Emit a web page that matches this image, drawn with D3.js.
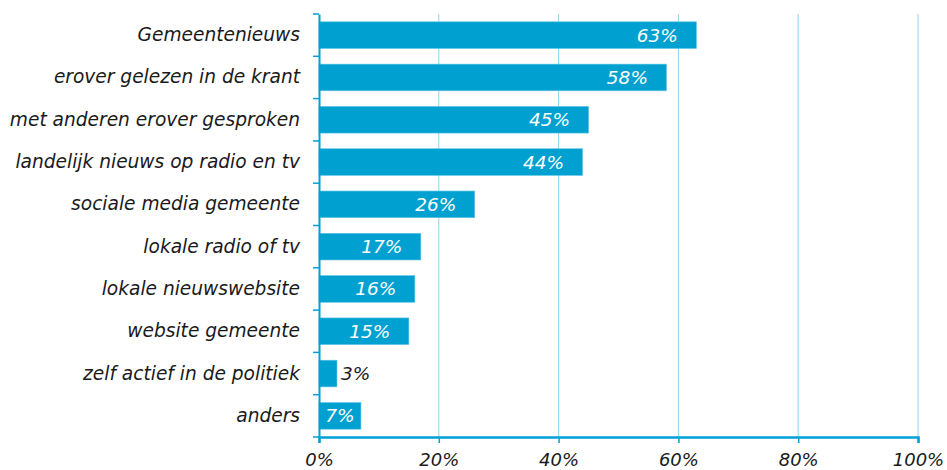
<!DOCTYPE html>
<html><head><meta charset="utf-8">
<script src="https://cdn.jsdelivr.net/npm/d3@7"></script>
<style>body{margin:0;background:#fff}svg{display:block}</style>
</head><body>
<script>
const categories = ["Gemeentenieuws","erover gelezen in de krant","met anderen erover gesproken","landelijk nieuws op radio en tv","sociale media gemeente","lokale radio of tv","lokale nieuwswebsite","website gemeente","zelf actief in de politiek","anders"];
const values = [63,58,45,44,26,17,16,15,3,7];
const xTicks = [0,20,40,60,80,100];

const W=947,H=470;
const m={left:319,right:29,top:14,bottom:33};
const svg=d3.select("body").append("svg").attr("width",W).attr("height",H);
const font="'DejaVu Sans', Verdana, sans-serif";
const x=d3.scaleLinear().domain([0,100]).range([m.left,W-m.right]);
const y=d3.scaleBand().domain(categories).range([m.top,H-m.bottom]).paddingInner(0.37).paddingOuter(0.185);
const band=d3.scaleBand().domain(categories).range([m.top,H-m.bottom]);

// gridlines
svg.append("g").selectAll("line").data(xTicks.filter(d=>d>0)).join("line")
 .attr("x1",d=>x(d)).attr("x2",d=>x(d)).attr("y1",m.top).attr("y2",H-m.bottom)
 .attr("stroke","#8dd3ec").attr("stroke-width",1);

// bars
svg.append("g").selectAll("rect").data(values).join("rect")
 .attr("x",x(0)).attr("y",(d,i)=>y(categories[i]))
 .attr("width",d=>x(d)-x(0)).attr("height",y.bandwidth())
 .attr("fill","#00a1d1").attr("stroke","#5cc3e6").attr("stroke-width",0.6);

// x axis
const xa=svg.append("g").attr("transform",`translate(0,${H-m.bottom})`)
 .call(d3.axisBottom(x).tickValues(xTicks).tickFormat(d=>d+"%").tickSize(6).tickPadding(10));
xa.select(".domain").attr("stroke","#00a0d6").attr("stroke-width",2.5);
xa.selectAll(".tick line").attr("stroke","#00a0d6").attr("stroke-width",1.5);
xa.selectAll("text").attr("font-family",font).attr("font-style","italic").attr("font-size","18px").attr("fill","#1a1a1a");

// y axis
const ya=svg.append("g").attr("transform",`translate(${m.left},0)`)
 .call(d3.axisLeft(band).tickSize(0).tickPadding(19));
ya.select(".domain").attr("stroke","#00a0d6").attr("stroke-width",2);
ya.selectAll("text").attr("font-family",font).attr("font-style","italic").attr("font-size","18.6px").attr("fill","#1a1a1a");
// band boundary ticks
const bounds=categories.map(c=>band(c)).concat([H-m.bottom]);
svg.append("g").selectAll("line").data(bounds).join("line")
 .attr("x1",m.left-6).attr("x2",m.left).attr("y1",d=>d).attr("y2",d=>d)
 .attr("stroke","#00a0d6").attr("stroke-width",1.5);

// value labels
const lab=svg.append("g").selectAll("text").data(values).join("text")
 .attr("font-family",font).attr("font-style","italic").attr("font-size","18.5px")
 .attr("dy","0.35em")
 .attr("y",(d,i)=>y(categories[i])+y.bandwidth()/2)
 .text(d=>d+"%");
lab.each(function(d){
  const t=d3.select(this);
  const w=this.getComputedTextLength();
  const bw=x(d)-x(0);
  if(bw<w+4){
    t.attr("x",x(d)+4).attr("text-anchor","start").attr("fill","#1a1a1a");
  } else {
    const c=Math.max((x(0)+x(d))/2, x(d)-39);
    t.attr("x",c).attr("text-anchor","middle").attr("fill","#fff");
  }
});
</script>
</body></html>
